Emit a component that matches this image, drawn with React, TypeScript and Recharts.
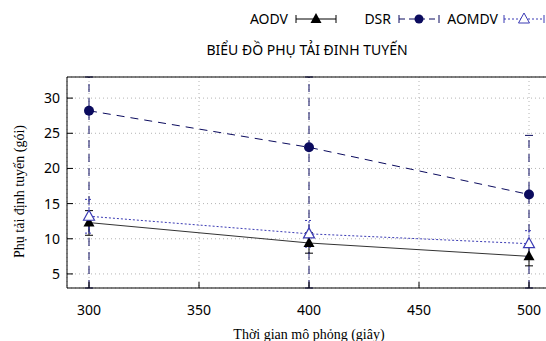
import React from "react";
import { LineChart, Line, XAxis, YAxis, CartesianGrid, ErrorBar } from "recharts";

// số liệu
const simTimes = [300, 400, 500];
const aodvLoad = [12.3, 9.4, 7.5];
const aodvErr = [[1.8, 1.7], [1.45, 1.45], [1.35, 1.35]];
const dsrLoad = [28.2, 23.0, 16.3];
const dsrErr = [[25.2, 4.8], [20, 10], [13.3, 8.4]];
const aomdvLoad = [13.2, 10.7, 9.3];
const aomdvErr = [[2.4, 2.4], [1.9, 1.9], [1.85, 1.85]];

const xTicks = [300, 350, 400, 450, 500];
const yTicks = [5, 10, 15, 20, 25, 30];

const data = simTimes.map((t, i) => ({
  t,
  aodv: aodvLoad[i],
  aodvErr: aodvErr[i],
  dsr: dsrLoad[i],
  dsrErr: dsrErr[i],
  aomdv: aomdvLoad[i],
  aomdvErr: aomdvErr[i],
}));

const SANS = "'Noto Sans', 'DejaVu Sans', sans-serif";
const SERIF = "'Liberation Serif', 'DejaVu Serif', serif";
const BLACK = "#000000";
const NAVY = "#0b0b5e";
const BLUE = "#3a3ab4";

const triangle = (cx: number, cy: number) =>
  `M${cx},${cy - 6}L${cx + 5.5},${cy + 4}L${cx - 5.5},${cy + 4}Z`;

function LegendSample({ dash, color, marker }: { dash?: string; color: string; marker: "tri" | "dot" | "hollow" }) {
  return (
    <svg width={42} height={12} style={{ display: "block" }}>
      <line x1={1} y1={6} x2={41} y2={6} stroke={color} strokeDasharray={dash} />
      <line x1={1} y1={2} x2={1} y2={10} stroke={color} />
      <line x1={41} y1={2} x2={41} y2={10} stroke={color} />
      {marker === "dot" && <circle cx={21} cy={6} r={4.5} fill={color} />}
      {marker === "tri" && <path d={triangle(21, 6)} fill={color} />}
      {marker === "hollow" && <path d={triangle(21, 6)} fill="#fff" stroke={color} />}
    </svg>
  );
}

const axisStroke = { stroke: BLACK, strokeWidth: 1 };

export default function App() {
  return (
    <div
      style={{
        position: "absolute",
        left: 0,
        top: 0,
        width: 546,
        height: 341,
        overflow: "hidden",
        background: "#fff",
      }}
    >
      {/* chú thích */}
      <div style={{ position: "absolute", top: 9, left: 0, width: 546, height: 20, fontFamily: SANS, fontSize: 14 }}>
        <span style={{ position: "absolute", right: 546 - 288, top: 0 }}>AODV</span>
        <div style={{ position: "absolute", left: 295, top: 4 }}>
          <LegendSample color={BLACK} marker="tri" />
        </div>
        <span style={{ position: "absolute", right: 546 - 391, top: 0 }}>DSR</span>
        <div style={{ position: "absolute", left: 398, top: 4 }}>
          <LegendSample color={NAVY} marker="dot" dash="6 4" />
        </div>
        <span style={{ position: "absolute", right: 546 - 498, top: 0 }}>AOMDV</span>
        <div style={{ position: "absolute", left: 503, top: 4 }}>
          <LegendSample color={BLUE} marker="hollow" dash="2 2" />
        </div>
      </div>
      <div
        style={{
          position: "absolute",
          top: 40,
          left: 107,
          width: 400,
          textAlign: "center",
          fontFamily: SANS,
          fontSize: 14,
        }}
      >
        BIỂU ĐỒ PHỤ TẢI ĐINH TUYẾN
      </div>

      <LineChart width={560} height={341} data={data} margin={{ top: 76, right: 9, bottom: 0, left: 0 }}>
        <CartesianGrid stroke="#b4b4b4" strokeDasharray="1 3" />
        <XAxis
          dataKey="t"
          type="number"
          domain={[290, 510]}
          ticks={xTicks}
          allowDataOverflow
          height={53}
          tickSize={-6}
          tickMargin={23}
          axisLine={axisStroke}
          tickLine={axisStroke}
          tick={{ fill: "#000", fontSize: 14, fontFamily: SANS }}
          label={{
            content: ({ viewBox }: any) => (
              <text
                x={viewBox.x + viewBox.width / 2}
                y={339}
                textAnchor="middle"
                fontFamily={SERIF}
                fontSize={14}
                fill="#000"
              >
                Thời gian mô phỏng (giây)
              </text>
            ),
          }}
        />
        <XAxis
          xAxisId="top"
          orientation="top"
          dataKey="t"
          type="number"
          domain={[290, 510]}
          ticks={xTicks}
          allowDataOverflow
          height={1}
          tickSize={-6}
          tick={false}
          axisLine={axisStroke}
          tickLine={axisStroke}
        />
        <YAxis
          type="number"
          domain={[3, 33]}
          ticks={yTicks}
          allowDataOverflow
          width={67}
          tickSize={-6}
          tickMargin={13}
          axisLine={axisStroke}
          tickLine={axisStroke}
          tick={{ fill: "#000", fontSize: 14, fontFamily: SANS }}
          label={{
            content: ({ viewBox }: any) => {
              const cx = 19;
              const cy = viewBox.y + viewBox.height / 2 + 9;
              return (
                <text
                  x={cx}
                  y={cy}
                  transform={`rotate(-90 ${cx} ${cy})`}
                  textAnchor="middle"
                  dominantBaseline="central"
                  fontFamily={SERIF}
                  fontSize={14}
                  fill="#000"
                >
                  Phụ tải định tuyến (gói)
                </text>
              );
            },
          }}
        />

        <Line
          dataKey="aodv"
          stroke="#333"
          strokeWidth={1}
          isAnimationActive={false}
          dot={(p: any) => <path key={`a${p.index}`} d={triangle(p.cx, p.cy)} fill={BLACK} />}
        >
          <ErrorBar dataKey="aodvErr" width={4} stroke={BLACK} strokeWidth={1} isAnimationActive={false} />
        </Line>
        <Line
          dataKey="dsr"
          stroke={NAVY}
          strokeWidth={1}
          strokeDasharray="8 6"
          isAnimationActive={false}
          dot={(p: any) => <circle key={`d${p.index}`} cx={p.cx} cy={p.cy} r={5} fill={NAVY} />}
        >
          <ErrorBar
            dataKey="dsrErr"
            width={4}
            stroke={NAVY}
            strokeWidth={1}
            strokeDasharray="8 6"
            isAnimationActive={false}
          />
        </Line>
        <Line
          dataKey="aomdv"
          stroke={BLUE}
          strokeWidth={1}
          strokeDasharray="2 2"
          isAnimationActive={false}
          dot={(p: any) => (
            <path key={`m${p.index}`} d={triangle(p.cx, p.cy)} fill="#fff" stroke={BLUE} strokeWidth={1.2} />
          )}
        >
          <ErrorBar
            dataKey="aomdvErr"
            width={4}
            stroke={BLUE}
            strokeWidth={1}
            strokeDasharray="2 2"
            isAnimationActive={false}
          />
        </Line>
      </LineChart>
    </div>
  );
}
